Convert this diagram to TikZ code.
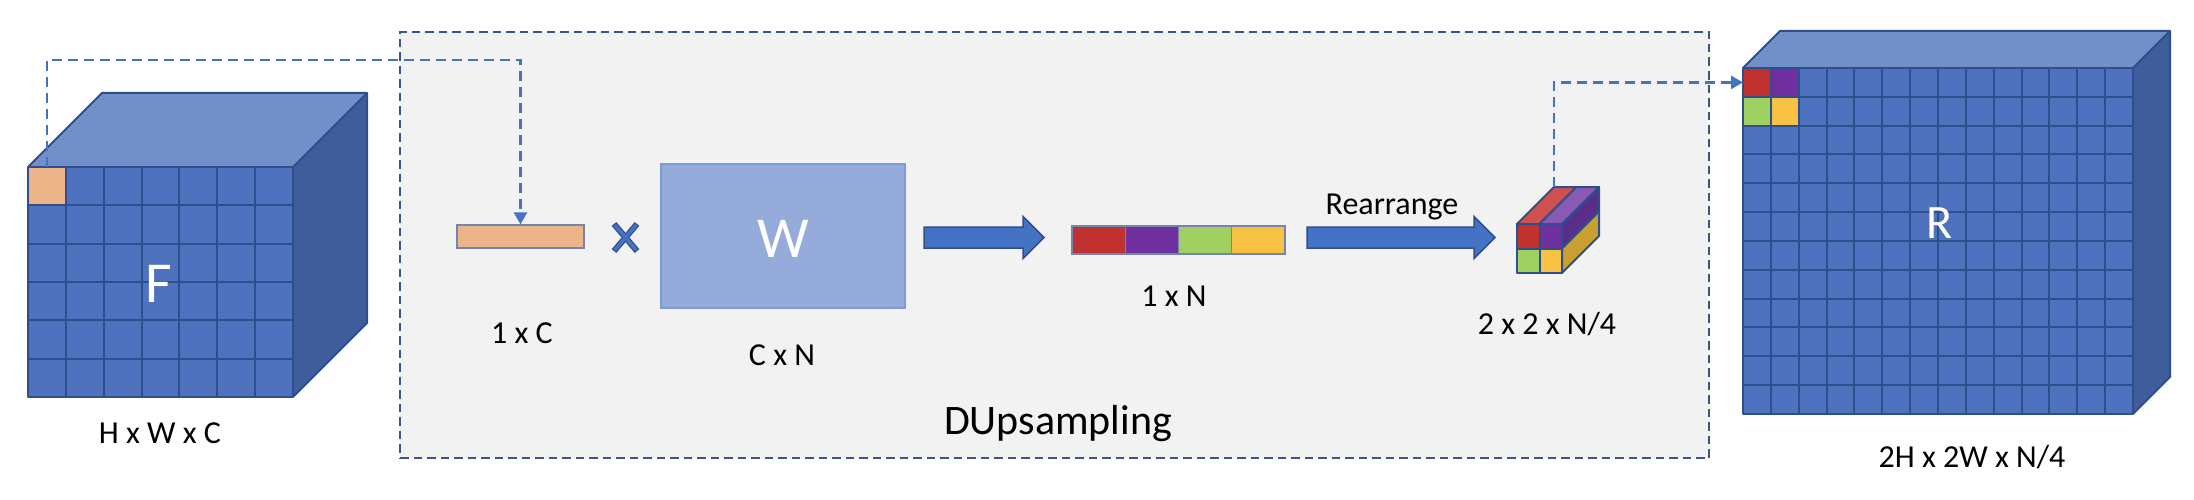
\documentclass[tikz,border=0pt]{standalone}
\usepackage{fontspec}
\setmainfont{Carlito}
\usetikzlibrary{arrows.meta}
\definecolor{cfront}{HTML}{4E72BE}
\definecolor{ctop}{HTML}{7190CA}
\definecolor{cside}{HTML}{3F5D9A}
\definecolor{cline}{HTML}{2F4F8C}
\definecolor{corange}{HTML}{EDB48A}
\definecolor{cwbox}{HTML}{95ABD9}
\definecolor{cred}{HTML}{C0312F}
\definecolor{cpurple}{HTML}{7030A0}
\definecolor{cgreen}{HTML}{A0CF62}
\definecolor{cyellow}{HTML}{F7C244}
\definecolor{credl}{HTML}{CF5050}
\definecolor{cpurl}{HTML}{8A58B5}
\definecolor{cpurd}{HTML}{5A2D8A}
\definecolor{cyeld}{HTML}{C8A032}
\definecolor{cdash}{HTML}{4472C4}
\definecolor{cbox}{HTML}{3C5488}
\definecolor{cgray}{HTML}{F2F2F2}
\definecolor{cthin}{HTML}{7484AA}
\newcommand{\myblockarrow}[4]{%
  \draw[blockarr] (#1,#4-10.5) -- (#2,#4-10.5) -- (#2,#4-21) -- (#3,#4)
    -- (#2,#4+21) -- (#2,#4+10.5) -- (#1,#4+10.5) -- cycle;}
\begin{document}
\begin{tikzpicture}[x=1pt,y=-1pt,
  dupbox/.style={draw=cbox, fill=cgray, line width=2.6pt, dash pattern=on 8.5pt off 5pt, minimum width=1309pt, minimum height=426pt, inner sep=0pt},
  gridline/.style={draw=cline, line width=2pt},
  faceedge/.style={draw=cline, line width=2pt, line join=round},
  conn/.style={draw=cdash, line width=2.5pt, dash pattern=on 10pt off 6pt, -{Triangle[width=13pt,length=12pt]}},
  thinbox/.style={draw=cthin, line width=1.2pt, inner sep=0pt},
  lbl/.style={font=\fontsize{32}{36}\selectfont, anchor=base, inner sep=0pt},
  biglbl/.style={font=\fontsize{58}{64}\selectfont, text=white, anchor=base, inner sep=0pt},
  blockarr/.style={fill=cdash, draw=cline, line width=1.5pt, line join=miter},
  mult/.style={line width=6pt, draw=cline},
  multin/.style={line width=3.6pt, draw=cdash},
  scube/.style={draw=cline, line width=2pt, line join=round}
]
\useasboundingbox (0,0) rectangle (2194,500);
\fill[white] (0,0) rectangle (2194,500);

% DUpsampling box
\node[dupbox] (dup) at (1054.5,245) {};
\node[lbl, font=\fontsize{42}{48}\selectfont] (duplbl) at (1058,434) {DUpsampling};

% ---------------- F cube
\fill[ctop] (28,167) -- (102,93) -- (367,93) -- (293,167) -- cycle;
\fill[cside] (293,167) -- (367,93) -- (367,323) -- (293,397) -- cycle;
\fill[cfront] (28,167) rectangle (293,397);
\fill[corange] (28,167) rectangle (65.86,205.33);
\foreach \i in {1,...,6} \draw[gridline] ({28+\i*37.857},167) -- ({28+\i*37.857},397);
\foreach \j in {1,...,5} \draw[gridline] (28,{167+\j*38.333}) -- (293,{167+\j*38.333});
\draw[faceedge] (28,167) rectangle (293,397);
\draw[faceedge] (28,167) -- (102,93) -- (367,93) -- (293,167);
\draw[faceedge] (367,93) -- (367,323) -- (293,397);
\node[biglbl] (flbl) at (159,302) {F};
\node[lbl] (fdim) at (160,443) {H x W x C};
\coordinate (fcell) at (46.9,167);
\coordinate (fturn) at (46.9,60);

% ---------------- 1 x C bar
\node[thinbox, fill=corange, minimum width=127pt, minimum height=23pt] (bar) at (520.5,236.5) {};
\node[lbl] (barlbl) at (522,343) {1 x C};

% multiplication sign
\draw[mult] (614,224) -- (637,251);
\draw[mult] (614,251) -- (637,224);
\draw[multin] (614.8,225) -- (636.2,250);
\draw[multin] (614.8,250) -- (636.2,225);

% W box
\node[thinbox, draw=cdash!70, fill=cwbox, minimum width=244pt, minimum height=144pt] (wbox) at (783,236) {};
\node[biglbl] (wlbl) at (783,257) {W};
\node[lbl] (wdim) at (782,365) {C x N};

% arrow 1
\myblockarrow{924}{1023}{1044}{237.5}

% colour bar
\node[thinbox, fill=cred, minimum width=53.25pt, minimum height=28pt] (c1) at (1098.6,240) {};
\node[thinbox, fill=cpurple, minimum width=53.25pt, minimum height=28pt] (c2) at (1151.9,240) {};
\node[thinbox, fill=cgreen, minimum width=53.25pt, minimum height=28pt] (c3) at (1205.1,240) {};
\node[thinbox, fill=cyellow, minimum width=53.25pt, minimum height=28pt] (c4) at (1258.4,240) {};
\node[lbl] (nlbl) at (1174,306) {1 x N};

% arrow 2
\myblockarrow{1307}{1474}{1495}{237.5}
\node[lbl] (rearr) at (1392,214) {Rearrange};

% small cube 2 x 2 x N/4
\filldraw[scube, fill=credl] (1517,224) -- (1539.5,224) -- (1576.5,187) -- (1554,187) -- cycle;
\filldraw[scube, fill=cpurl] (1539.5,224) -- (1562,224) -- (1599,187) -- (1576.5,187) -- cycle;
\filldraw[scube, fill=cpurd] (1562,224) -- (1599,187) -- (1599,211.5) -- (1562,248.5) -- cycle;
\filldraw[scube, fill=cyeld] (1562,248.5) -- (1599,211.5) -- (1599,236) -- (1562,273) -- cycle;
\filldraw[scube, fill=cred] (1517,224) rectangle (1539.5,248.5);
\filldraw[scube, fill=cpurple] (1539.5,224) rectangle (1562,248.5);
\filldraw[scube, fill=cgreen] (1517,248.5) rectangle (1539.5,273);
\filldraw[scube, fill=cyellow] (1539.5,248.5) rectangle (1562,273);
\node[lbl] (slbl) at (1547,334) {2 x 2 x N/4};
\coordinate (stop) at (1554,187);

% ---------------- R cube
\fill[ctop] (1743,68) -- (1780,31) -- (2170,31) -- (2133,68) -- cycle;
\fill[cside] (2133,68) -- (2170,31) -- (2170,377) -- (2133,414) -- cycle;
\fill[cfront] (1743,68) rectangle (2133,414);
\fill[cred] (1743,68) rectangle (1770.86,96.83);
\fill[cpurple] (1770.86,68) rectangle (1798.71,96.83);
\fill[cgreen] (1743,96.83) rectangle (1770.86,125.67);
\fill[cyellow] (1770.86,96.83) rectangle (1798.71,125.67);
\foreach \i in {1,...,13} \draw[gridline] ({1743+\i*27.857},68) -- ({1743+\i*27.857},414);
\foreach \j in {1,...,11} \draw[gridline] (1743,{68+\j*28.833}) -- (2133,{68+\j*28.833});
\draw[faceedge] (1743,68) rectangle (2133,414);
\draw[faceedge] (1743,68) -- (1780,31) -- (2170,31) -- (2133,68);
\draw[faceedge] (2170,31) -- (2170,377) -- (2133,414);
\node[biglbl, font=\fontsize{48}{54}\selectfont] (rlbl) at (1940,238) {R};
\node[lbl] (rdim) at (1972,467) {2H x 2W x N/4};
\coordinate (rcell) at (1743,82.4);

% connectors
\draw[conn] (fcell) -- (fturn) -| (bar.north);
\draw[conn] (stop) |- (rcell);
\end{tikzpicture}
\end{document}
